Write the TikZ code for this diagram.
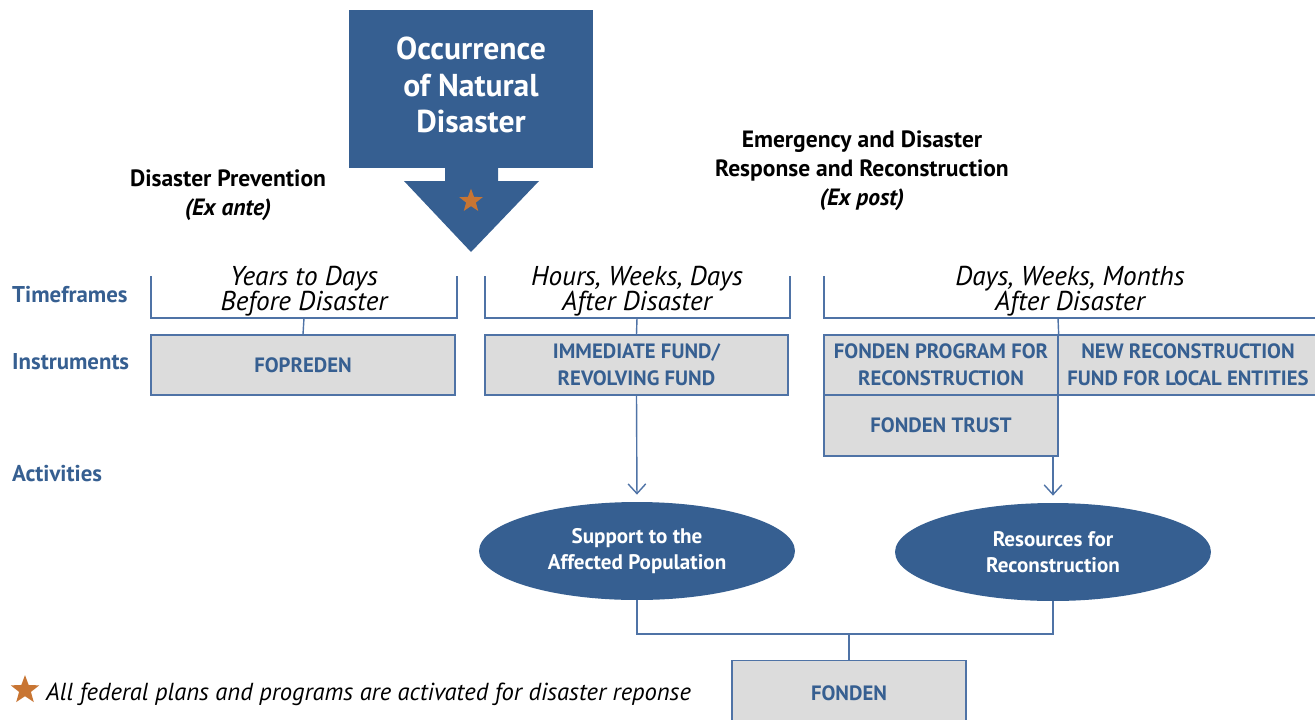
\documentclass[tikz,border=0pt]{standalone}
\usepackage{fontspec}
\setmainfont{PT Sans}
\usepackage{tikz}
\usetikzlibrary{positioning,arrows.meta,shapes.geometric}

\definecolor{dblue}{HTML}{365F91}
\definecolor{lblue}{HTML}{4F73A6}
\definecolor{boxgray}{HTML}{DCDCDC}
\definecolor{staror}{HTML}{C87533}

\begin{document}
\begin{tikzpicture}[x=0.02cm, y=-0.02cm, every node/.style={font=\small},
    box/.style={rectangle, draw=lblue, fill=boxgray, line width=0.8pt, inner sep=2pt,
        text=dblue, font=\fontsize{11.8}{15.3}\selectfont\bfseries, align=center, minimum height=1.2cm},
    oval/.style={ellipse, fill=dblue, text=white, minimum width=6.32cm, minimum height=1.96cm,
        font=\fontsize{12}{15}\selectfont\bfseries, align=center},
    rowlbl/.style={anchor=west, text=dblue, font=\fontsize{13}{15}\selectfont\bfseries},
    hdr/.style={align=center, font=\fontsize{13.4}{16.5}\selectfont\bfseries},
    tfr/.style={align=center, font=\fontsize{15.5}{14.3}\selectfont\itshape},
    ln/.style={draw=lblue, line width=0.8pt},
    arr/.style={ln, -{Straight Barb[length=5.5pt, width=10pt]}, shorten >=4pt},
    orstar/.style={star, star points=5, star point ratio=2.4, fill=staror, inner sep=0pt}]
\useasboundingbox (0,0) rectangle (1315,720);

% occurrence box and arrow
\fill[dblue] (445,166) -- (445,181) -- (404,181) -- (471,252) -- (539,181) -- (498,181) -- (498,166) -- cycle;
\node[fill=dblue, minimum width=4.88cm, minimum height=3.16cm] (occ) at (471,89) {};
\node[text=white, align=center, font=\fontsize{18}{21}\selectfont\bfseries] (occt) at (471,85)
    {Occurrence\\of Natural\\Disaster};
\node[orstar, minimum size=14pt] (st1) at (471,201) {};

% headings
\node[hdr] (prev) at (228,195) {Disaster Prevention\\\textit{(Ex ante)}};
\node[hdr] (post) at (862,171) {Emergency and Disaster\\Response and Reconstruction\\\textit{(Ex post)}};

% row labels
\node[rowlbl] (rtf) at (6,295) {Timeframes};
\node[rowlbl] (rin) at (6,362) {Instruments};
\node[rowlbl] (rac) at (6,474) {Activities};

% timeframes
\node[tfr] (tf1) at (304,291) {Years to Days\\Before Disaster};
\node[tfr] (tf2) at (637,291) {Hours, Weeks, Days\\After Disaster};
\node[tfr] (tf3) at (1070,291) {Days, Weeks, Months\\After Disaster};
\coordinate (b1l) at (151,276); \coordinate (b1r) at (457,276);
\coordinate (b2l) at (485,276); \coordinate (b2r) at (790,276);
\coordinate (b3l) at (824,276); \coordinate (b3r) at (1320,318);
\draw[ln] (b1l) -- (151,318) -- (457,318) -- (b1r);
\draw[ln] (b2l) -- (485,318) -- (790,318) -- (b2r);
\draw[ln] (b3l) -- (824,318) -- (b3r);

% instruments
\node[box, minimum width=6.08cm] (fop) at (303,365) {FOPREDEN};
\node[box, minimum width=6.06cm] (imm) at (636.5,365) {IMMEDIATE FUND/\\REVOLVING FUND};
\node[box, minimum width=4.68cm] (fpr) at (941,365) {FONDEN PROGRAM FOR\\RECONSTRUCTION};
\node[box, minimum width=5.2cm] (nrf) at (1188,365) {NEW RECONSTRUCTION\\FUND FOR LOCAL ENTITIES};
\node[box, minimum width=4.68cm, minimum height=1.22cm] (ftr) at (941,425.5) {FONDEN TRUST};
\draw[ln] (304,318) -- (fop.north);
\draw[ln] (637,318) -- (imm.north);
\draw[ln] (1058,318) -- (fpr.north east);

% activities
\node[oval] (sup) at (637,551) {Support to the\\Affected Population};
\node[oval] (res) at (1053,552) {Resources for\\Reconstruction};
\draw[arr] (imm.south) -- (sup.north);
\draw[arr] (ftr.south -| res.north) -- (res.north);

% fonden
\node[box, minimum width=4.68cm, minimum height=1.3cm] (fon) at (849,693) {FONDEN};
\draw[ln] (sup.south) -- (637,634) -- (1053,634) -- (res.south);
\draw[ln] (849,634) -- (fon.north);

% footnote
\node[orstar, minimum size=17pt] (st2) at (25,690) {};
\node[anchor=west, font=\fontsize{14}{16}\selectfont\itshape] (note) at (40,694)
    {All federal plans and programs are activated for disaster reponse};
\end{tikzpicture}
\end{document}
